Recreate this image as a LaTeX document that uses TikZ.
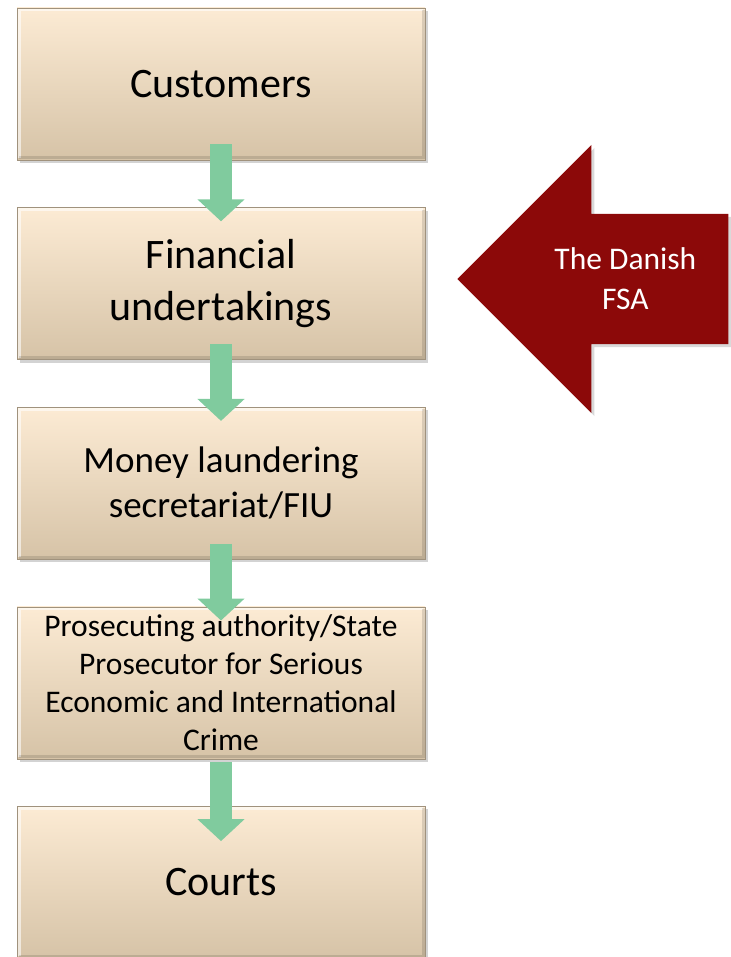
\documentclass[tikz,border=0pt]{standalone}
\usepackage{fontspec}
\setmainfont{Carlito}
\usetikzlibrary{arrows.meta, positioning, shapes.arrows, shadows}

\definecolor{stagetop}{HTML}{FCEBD4}
\definecolor{stagebot}{HTML}{D6C3A7}
\definecolor{flowgreen}{HTML}{80CB9E}
\definecolor{fsared}{HTML}{8C0909}

\begin{document}
\begin{tikzpicture}[
    x=1pt, y=-1pt,
    stage/.style={top color=stagetop, bottom color=stagebot, draw=stagebot!75!black, line width=.6pt,
        align=center, minimum width=408pt, minimum height=152pt, inner sep=2pt,
        drop shadow={shadow xshift=3pt, shadow yshift=-3pt, opacity=.35},
        path picture={
            % bevel: light rim on top and left, darker rim on bottom and right
            \draw[white, opacity=.6, line width=3pt]
                ([xshift=2pt,yshift=2pt]path picture bounding box.south west) --
                ([xshift=2pt,yshift=-2pt]path picture bounding box.north west) --
                ([xshift=-2pt,yshift=-2pt]path picture bounding box.north east);
            \draw[black, opacity=.12, line width=3pt]
                ([xshift=-2pt,yshift=-2pt]path picture bounding box.north east) --
                ([xshift=-2pt,yshift=2pt]path picture bounding box.south east) --
                ([xshift=2pt,yshift=2pt]path picture bounding box.south west);
        }},
    big/.style={font=\fontsize{42}{52}\selectfont},
    mid/.style={font=\fontsize{37}{45}\selectfont},
    small/.style={font=\fontsize{31.5}{38}\selectfont},
    flow/.style={draw=flowgreen, line width=22pt, line cap=butt, -{Triangle[length=22pt, width=46pt]}},
    fsa/.style={single arrow, shape border rotate=180, single arrow tip angle=90,
        single arrow head extend=69pt, inner xsep=0pt, inner ysep=65pt, minimum height=271pt,
        fill=fsared, drop shadow={shadow xshift=3pt, shadow yshift=-3pt, opacity=.3}},
    fsalabel/.style={text=white, align=center, font=\fontsize{31.5}{40}\selectfont}
]
    \useasboundingbox (0,0) rectangle (730,957);

    \node[stage, big] (customers) at (221,84) {Customers};
    \node[stage, big, below=47pt of customers] (financial) {Financial\\ undertakings};
    \node[stage, mid, below=47pt of financial] (fiu) {Money laundering\\ secretariat/FIU};
    \node[stage, small, below=47pt of fiu] (prosecutor) {Prosecuting authority/State\\ Prosecutor for Serious\\ Economic and International\\ Crime};
    \node[stage, big, below=47pt of prosecutor] (courts) {Courts};

    % supervision arrow pointing at the financial sector
    \node[fsa, anchor=tip, label={[fsalabel]center:The Danish\\ FSA}] (fsa) at (457,279) {};

    \draw[flow] ([yshift=16pt]customers.south) -- ([yshift=-14pt]financial.north);
    \draw[flow] ([yshift=16pt]financial.south) -- ([yshift=-14pt]fiu.north);
    \draw[flow] ([yshift=16pt]fiu.south) -- ([yshift=-14pt]prosecutor.north);
    \draw[flow] ([yshift=-3pt]prosecutor.south) -- ([yshift=-35pt]courts.north);
\end{tikzpicture}
\end{document}
